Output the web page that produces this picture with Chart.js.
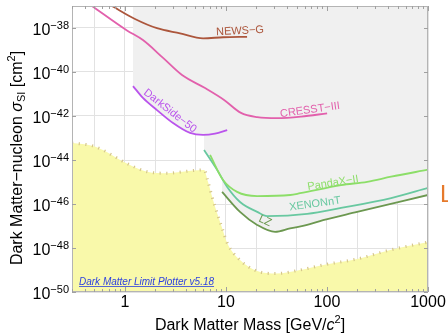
<!DOCTYPE html>
<html><head><meta charset="utf-8">
<script src="https://cdn.jsdelivr.net/npm/chart.js@4.4.1/dist/chart.umd.min.js"></script>
<style>html,body{margin:0;padding:0;background:#fff;overflow:hidden}#wrap{width:448px;height:335px}</style>
</head><body><div id="wrap"><canvas id="c" width="448" height="335"></canvas></div>
<script>
const FONT = "'Liberation Sans', Arial, Helvetica, sans-serif";

// ---- axes ----
const xTickValues = [1, 10, 100, 1000];
const xTickLabels = ['1', '10', '100', '1000'];
const xGridValues = [0.5, 1, 2, 5, 10, 20, 50, 100, 200, 500, 1000];
const yTickExponents = [-38, -40, -42, -44, -46, -48, -50];

// ---- experiment limits (mass in GeV/c^2, cross-section in cm^2) ----
const newsgMass  = [0.746, 1.26, 2.08, 3.52, 5.94, 9.4, 16.2];
const newsgSigma = [1e-37, 2.57e-38, 9.77e-39, 5.75e-39, 3.39e-39, 3.8e-39, 3.98e-39];

const cresstMass  = [0.473, 1.05, 1.51, 2.39, 3.68, 6.22, 9.6, 14.1, 20.4, 32.1, 55.5, 100.4];
const cresstSigma = [1e-37, 7.76e-39, 2.82e-39, 4.37e-40, 7.24e-41, 1.86e-41, 5.37e-42, 1.38e-42, 8.91e-43, 7.94e-43, 9.33e-43, 1.32e-42];

const darksideMass  = [1.205, 1.51, 2.08, 3.0, 4.42, 5.94, 7.8, 10.3];
const darksideSigma = [2.29e-41, 6.61e-42, 1.86e-42, 4.79e-43, 1.7e-43, 1.38e-43, 1.58e-43, 2.29e-43];

const pandaxMass  = [6.97, 9.38, 12.9, 20.4, 43.2, 54.2, 138, 250, 432, 1000];
const pandaxSigma = [1.7e-44, 1.23e-45, 3.55e-46, 2.29e-46, 2.57e-46, 3.09e-46, 7.24e-46, 1.02e-45, 1.74e-45, 3.63e-45];

const xenonMass  = [6.08, 8.18, 10.3, 13.8, 20.4, 25.6, 63.7, 138, 432, 1000];
const xenonSigma = [2.82e-44, 3.55e-45, 5.89e-46, 1.23e-46, 4.37e-47, 2.82e-47, 3.55e-47, 6.61e-47, 1.86e-46, 5.37e-46];

const lzMass  = [9.17, 13.8, 20.4, 30.7, 43.2, 63.7, 91.6, 199, 1000];
const lzSigma = [3.55e-46, 4.37e-47, 1.12e-47, 5.37e-48, 7.76e-48, 1.12e-47, 1.86e-47, 4.37e-47, 2.57e-46];

// neutrino fog boundary
const fogMass  = [0.3, 0.484, 0.608, 0.8, 1.05, 1.66, 2.62, 4.73, 6.08, 6.66, 7.46, 8.18, 9.17, 10.3, 13.8, 20.4, 31.4, 54.2, 91.6, 199, 423, 1000];
const fogSigma = [5.89e-44, 4.37e-44, 2.82e-44, 1.38e-44, 6.92e-45, 2.95e-45, 2.51e-45, 3.31e-45, 3.55e-45, 1e-45, 1.51e-46, 3.89e-47, 8.13e-48, 1.7e-48, 2.82e-49, 8.91e-50, 6.92e-50, 1e-49, 1.7e-49, 3.16e-49, 8.13e-49, 1.86e-48];

// excluded region (lower envelope)
const excludedMass  = [1.205, 1.51, 2.08, 3.0, 4.42, 5.94, 6.08, 6.08, 8.18, 9.17, 9.17, 13.8, 20.4, 30.7, 43.2, 63.7, 91.6, 199, 1000];
const excludedSigma = [2.29e-41, 6.61e-42, 1.86e-42, 4.79e-43, 1.7e-43, 1.38e-43, 1.38e-43, 2.82e-44, 3.55e-45, 1.45e-45, 3.55e-46, 4.37e-47, 1.12e-47, 5.37e-48, 7.76e-48, 1.12e-47, 1.86e-47, 4.37e-47, 2.57e-46];

const pts = (m, s) => m.map((v, i) => ({ x: v, y: s[i] }));
const curve = (m, s, color) => ({
  data: pts(m, s), showLine: true, borderColor: color, borderWidth: 1.8,
  pointRadius: 0, fill: false, cubicInterpolationMode: 'monotone', order: 0
});

const C = {
  newsg: 'rgb(172,86,60)', cresst: 'rgb(226,96,172)', darkside: 'rgb(186,84,236)',
  pandax: 'rgb(140,222,104)', xenon: 'rgb(104,200,160)', lz: 'rgb(108,152,80)'
};

const overlay = {
  id: 'overlay',
  afterDraw(chart) {
    const ctx = chart.ctx, a = chart.chartArea, xs = chart.scales.x, ys = chart.scales.y;
    ctx.save();
    const seg = (x1, y1, x2, y2) => { ctx.beginPath(); ctx.moveTo(x1, y1); ctx.lineTo(x2, y2); ctx.stroke(); };
    // border
    ctx.strokeStyle = '#b4b4b4'; ctx.lineWidth = 1;
    ctx.strokeRect(Math.round(a.left) + 0.5, Math.round(a.top) + 0.5, Math.round(a.right - a.left) - 1, Math.round(a.bottom - a.top) - 1);
    // ticks
    ctx.strokeStyle = '#a0a0a0';
    for (let e = -1; e <= 3; e++) for (let k = 1; k < 10; k++) {
      const v = k * Math.pow(10, e);
      if (v < 0.3 || v > 1000) continue;
      const px = Math.round(xs.getPixelForValue(v)) + 0.5, len = k === 1 ? 5 : 3;
      seg(px, a.bottom, px, a.bottom - len); seg(px, a.top, px, a.top + len);
    }
    for (const e of yTickExponents) {
      const py = Math.round(ys.getPixelForValue(Math.pow(10, e))) + 0.5;
      seg(a.left, py, a.left + 4, py); seg(a.right, py, a.right - 4, py);
    }
    // y tick labels 10^n
    ctx.fillStyle = '#000'; ctx.textBaseline = 'alphabetic'; ctx.textAlign = 'left';
    for (const e of yTickExponents) {
      const py = ys.getPixelForValue(Math.pow(10, e));
      const ex = '\u2212' + Math.abs(e);
      ctx.font = `16px ${FONT}`; const w10 = ctx.measureText('10').width;
      ctx.font = `11px ${FONT}`; const we = ctx.measureText(ex).width;
      const x0 = 69 - we - w10;
      ctx.font = `16px ${FONT}`; ctx.fillText('10', x0, py + 6.5);
      ctx.font = `11px ${FONT}`; ctx.fillText(ex, x0 + w10, py + 0.5);
    }
    // rich text helper
    const rich = (parts, x, y) => {
      let tot = 0;
      for (const p of parts) { ctx.font = p.f; p.w = ctx.measureText(p.t).width; tot += p.w; }
      let cx = x - tot / 2;
      for (const p of parts) { ctx.font = p.f; ctx.fillText(p.t, cx, y + (p.dy || 0)); cx += p.w; }
    };
    ctx.fillStyle = '#000'; ctx.textAlign = 'left';
    const F16 = `16px ${FONT}`, F11 = `11px ${FONT}`, I16 = `italic 16px ${FONT}`;
    rich([{ t: 'Dark Matter Mass [GeV/', f: F16 }, { t: 'c', f: I16 }, { t: '2', f: F11, dy: -7 }, { t: ']', f: F16 }], (a.left + a.right) / 2, 330);
    ctx.save(); ctx.translate(22, 158); ctx.rotate(-Math.PI / 2);
    rich([{ t: 'Dark Matter\u2212nucleon ', f: F16 }, { t: '\u03C3', f: I16 }, { t: 'SI', f: F11, dy: 3 }, { t: ' [cm', f: F16 }, { t: '2', f: F11, dy: -7 }, { t: ']', f: F16 }], 0, 0);
    ctx.restore();
    // curve labels
    const lab = (t, x, y, ang, col, size) => {
      ctx.save(); ctx.translate(x, y); ctx.rotate(ang * Math.PI / 180);
      ctx.font = `${size}px ${FONT}`; ctx.fillStyle = col; ctx.textAlign = 'center'; ctx.textBaseline = 'middle';
      ctx.fillText(t, 0, 0); ctx.restore();
    };
    lab('NEWS\u2212G', 240, 31, -3, C.newsg, 11);
    lab('CRESST\u2212III', 310, 110, -8, C.cresst, 11);
    lab('DarkSide\u221250', 170, 111, 38, C.darkside, 11);
    lab('PandaX\u2212II', 333, 183, -9, C.pandax, 11);
    lab('XENONnT', 315, 204, -8, C.xenon, 11);
    lab('LZ', 265, 221, 25, C.lz, 11);
    // watermark
    ctx.font = `italic 10px ${FONT}`; ctx.fillStyle = '#2b3fe0'; ctx.textAlign = 'left'; ctx.textBaseline = 'alphabetic';
    const wm = 'Dark Matter Limit Plotter v5.18';
    ctx.fillText(wm, 79, 284.5);
    const ww = ctx.measureText(wm).width;
    ctx.strokeStyle = '#2b3fe0'; ctx.lineWidth = 0.8; seg(79, 286.5, 79 + ww, 286.5);
    // cut-off legend letter at right edge
    ctx.font = `24px ${FONT}`; ctx.fillStyle = 'rgb(230,122,44)'; ctx.fillText('L', 440, 202);
    ctx.restore();
  }
};

new Chart(document.getElementById('c'), {
  type: 'scatter',
  data: {
    datasets: [
      curve(newsgMass, newsgSigma, C.newsg),
      curve(cresstMass, cresstSigma, C.cresst),
      curve(darksideMass, darksideSigma, C.darkside),
      curve(pandaxMass, pandaxSigma, C.pandax),
      curve(xenonMass, xenonSigma, C.xenon),
      curve(lzMass, lzSigma, C.lz),
      { data: pts(excludedMass, excludedSigma), showLine: true, borderWidth: 0, borderColor: 'rgba(0,0,0,0)',
        backgroundColor: 'rgb(240,240,240)', pointRadius: 0, fill: 'end', tension: 0, order: 2 },
      { data: pts(fogMass, fogSigma), showLine: true, borderWidth: 3, borderColor: 'rgb(214,198,140)', borderDash: [1.2, 5.5],
        backgroundColor: 'rgb(249,249,170)', pointRadius: 0, fill: 'start', cubicInterpolationMode: 'monotone', order: 3 }
    ]
  },
  options: {
    responsive: false, animation: false, devicePixelRatio: 1,
    layout: { padding: { top: 6, right: 20, left: 0, bottom: 0 } },
    plugins: { legend: { display: false }, tooltip: { enabled: false } },
    scales: {
      x: {
        type: 'logarithmic', position: 'bottom', min: 0.3, max: 1000,
        afterBuildTicks: s => { s.ticks = xGridValues.map(v => ({ value: v })); },
        afterFit: s => { s.height = 43; },
        ticks: {
          autoSkip: false, maxRotation: 0, minRotation: 0, padding: 1, color: '#000',
          font: { family: FONT, size: 16 },
          callback: v => { const i = xTickValues.indexOf(v); return i >= 0 ? xTickLabels[i] : ''; }
        },
        grid: { color: '#e2e2e2', drawTicks: false },
        border: { display: false }
      },
      y: {
        type: 'logarithmic', position: 'left', min: 1e-50, max: 1e-37,
        afterBuildTicks: s => { s.ticks = yTickExponents.map(e => ({ value: Math.pow(10, e) })); },
        afterFit: s => { s.width = 72; },
        ticks: { display: false },
        grid: { color: '#e2e2e2', drawTicks: false },
        border: { display: false }
      }
    }
  },
  plugins: [overlay]
});
</script></body></html>
